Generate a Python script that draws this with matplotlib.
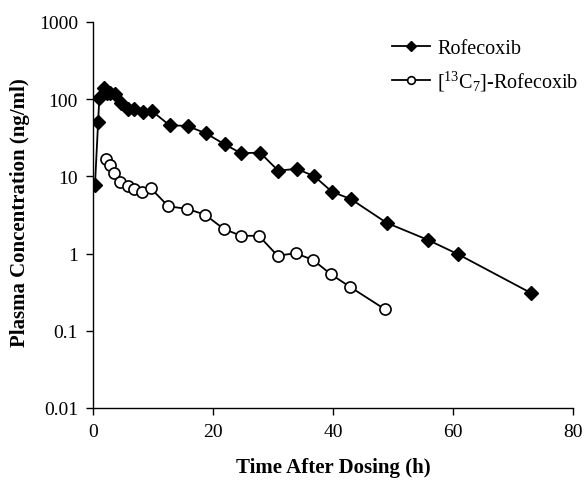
import matplotlib
matplotlib.use("Agg")
import matplotlib.pyplot as plt
from matplotlib.ticker import FixedLocator, FixedFormatter, NullLocator

plt.rcParams['font.family'] = ['Liberation Serif', 'DejaVu Serif']
plt.rcParams['mathtext.fontset'] = 'custom'
plt.rcParams['mathtext.rm'] = 'Liberation Serif'
plt.rcParams['mathtext.it'] = 'Liberation Serif:italic'
plt.rcParams['mathtext.bf'] = 'Liberation Serif:bold'

# Data
rof_t = [0.28, 0.8, 1.0, 1.8, 2.2, 2.8, 3.6, 4.6, 5.7, 6.7, 8.2, 9.7, 12.7, 15.7,
         18.8, 21.9, 24.6, 27.8, 30.8, 33.9, 36.8, 39.8, 42.9, 48.9, 55.8, 60.8, 72.9]
rof_c = [7.8, 50, 103, 138, 120, 120, 116, 90, 74, 74, 69, 71, 46, 45,
         36, 26, 20, 20.3, 11.9, 12.5, 10.1, 6.3, 5.1, 2.5, 1.5, 0.98, 0.31]

lab_t = [2.1, 2.7, 3.5, 4.45, 5.7, 6.7, 8.1, 9.6, 12.5, 15.6, 18.6, 21.7, 24.6,
         27.6, 30.7, 33.7, 36.6, 39.6, 42.8, 48.6]
lab_c = [16.6, 14, 11, 8.5, 7.5, 6.8, 6.3, 7.0, 4.1, 3.8, 3.2, 2.1, 1.7,
         1.7, 0.94, 1.01, 0.83, 0.54, 0.37, 0.19]

y_ticks = [0.01, 0.1, 1, 10, 100, 1000]
y_ticklabels = ['0.01', '0.1', '1', '10', '100', '1000']
x_ticks = [0, 20, 40, 60, 80]

series_names = ['Rofecoxib', r'[$^{13}$C$_7$]-Rofecoxib']

fig = plt.figure(figsize=(5.85, 4.81), dpi=100)
ax = fig.add_axes([0.1595, 0.1497, 0.8205, 0.8025])

ax.plot(rof_t, rof_c, color='black', lw=1.3, marker='D', ms=7,
        mfc='black', mec='black', label=series_names[0])
ax.plot(lab_t, lab_c, color='black', lw=1.3, marker='o', ms=8,
        mfc='white', mec='black', mew=1.2, label=series_names[1])

ax.set_yscale('log')
ax.set_ylim(0.01, 1000)
ax.set_xlim(0, 80)
ax.yaxis.set_major_locator(FixedLocator(y_ticks))
ax.yaxis.set_major_formatter(FixedFormatter(y_ticklabels))
ax.yaxis.set_minor_locator(NullLocator())
ax.set_xticks(x_ticks)

for s in ['top', 'right']:
    ax.spines[s].set_visible(False)
for s in ['left', 'bottom']:
    ax.spines[s].set_linewidth(1.0)

ax.tick_params(axis='both', direction='out', length=5, width=1.0,
               labelsize=14, pad=6)

ax.set_xlabel('Time After Dosing (h)', fontsize=15, fontweight='bold', labelpad=12)
ax.set_ylabel('Plasma Concentration (ng/ml)', fontsize=15, fontweight='bold')
ax.yaxis.set_label_coords(-0.131, 0.51)

leg = fig.legend(*ax.get_legend_handles_labels(), loc='upper left',
                 bbox_to_anchor=(0.656, 0.934), frameon=False,
                 fontsize=14.5, handlelength=1.9, labelspacing=0.55,
                 handletextpad=0.35, borderaxespad=0.0)
for h in leg.legend_handles:
    h.set_markersize(5.5)

fig.savefig('out.png', dpi=100)
